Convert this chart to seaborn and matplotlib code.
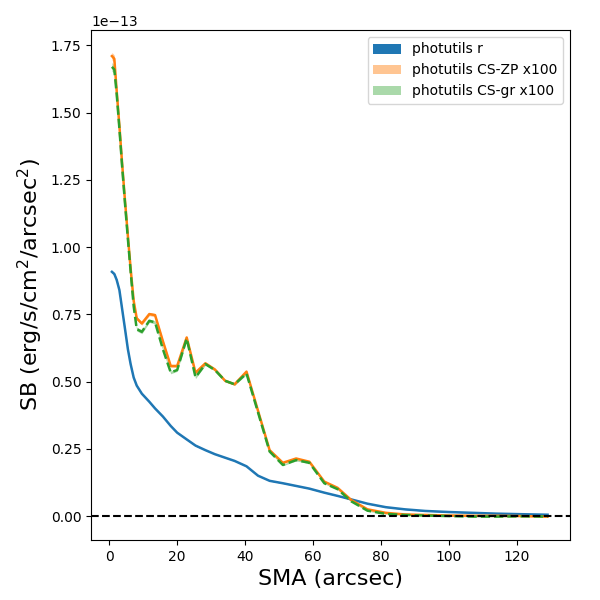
import numpy as np
import pandas as pd
import matplotlib
matplotlib.use("Agg")
import matplotlib.pyplot as plt
import seaborn as sns

# SMA (arcsec)
sma = [0.8, 1.5, 2.2, 3.0, 3.8, 4.6, 5.5, 6.3, 7.2, 8.1, 9.6, 11.8, 13.5, 15.8,
       18.1, 20.0, 22.8, 25.4, 28.3, 31.1, 34.1, 36.9, 40.4, 43.8, 47.2, 51.1,
       55.0, 58.9, 63.3, 67.2, 71.2, 76.0, 81.4, 87.0, 93.0, 100.0, 107.0,
       114.0, 121.0, 129.0]

# surface brightness, units of 1e-13 erg/s/cm^2/arcsec^2
sb_r = [0.908, 0.900, 0.878, 0.840, 0.770, 0.700, 0.620, 0.565, 0.515, 0.485,
        0.455, 0.425, 0.400, 0.370, 0.335, 0.310, 0.285, 0.262, 0.245, 0.230,
        0.217, 0.205, 0.185, 0.150, 0.131, 0.122, 0.112, 0.102, 0.087, 0.075,
        0.062, 0.046, 0.033, 0.025, 0.019, 0.015, 0.012, 0.009, 0.007, 0.005]

sb_zp = [1.710, 1.700, 1.580, 1.450, 1.310, 1.180, 1.040, 0.920, 0.800, 0.735,
         0.716, 0.751, 0.747, 0.650, 0.558, 0.558, 0.664, 0.533, 0.568, 0.545,
         0.503, 0.490, 0.537, 0.391, 0.245, 0.198, 0.214, 0.202, 0.128, 0.105,
         0.060, 0.025, 0.012, 0.006, 0.004, 0.002, 0.001, 0.001, 0.000, -0.002]

sb_gr = [1.670, 1.660, 1.570, 1.440, 1.300, 1.170, 1.030, 0.910, 0.780, 0.695,
         0.685, 0.726, 0.720, 0.620, 0.534, 0.543, 0.660, 0.516, 0.565, 0.543,
         0.503, 0.490, 0.530, 0.385, 0.240, 0.190, 0.208, 0.198, 0.122, 0.100,
         0.055, 0.020, 0.008, 0.004, 0.002, 0.000, -0.002, -0.002, -0.001, -0.002]

# uncertainties (same units)
err_r = [0.004, 0.004, 0.004, 0.004, 0.003, 0.003, 0.003, 0.003, 0.002, 0.002,
         0.002, 0.002, 0.002, 0.002, 0.002, 0.002, 0.002, 0.002, 0.001, 0.001,
         0.001, 0.001, 0.001, 0.001, 0.001, 0.001, 0.001, 0.001, 0.001, 0.001,
         0.001, 0.001, 0.001, 0.001, 0.001, 0.001, 0.001, 0.001, 0.001, 0.001]
err_zp = [0.014, 0.013, 0.012, 0.011, 0.010, 0.009, 0.008, 0.008, 0.007, 0.007,
          0.006, 0.006, 0.006, 0.006, 0.005, 0.005, 0.005, 0.005, 0.004, 0.004,
          0.004, 0.004, 0.004, 0.004, 0.003, 0.003, 0.003, 0.003, 0.002, 0.002,
          0.002, 0.002, 0.001, 0.001, 0.001, 0.001, 0.001, 0.001, 0.001, 0.001]
err_gr = [0.016, 0.015, 0.012, 0.011, 0.010, 0.009, 0.009, 0.008, 0.008, 0.007,
          0.007, 0.006, 0.006, 0.006, 0.005, 0.005, 0.005, 0.005, 0.004, 0.004,
          0.004, 0.004, 0.004, 0.004, 0.003, 0.003, 0.003, 0.003, 0.002, 0.002,
          0.002, 0.002, 0.001, 0.001, 0.001, 0.001, 0.001, 0.001, 0.001, 0.001]

labels = ["photutils r", "photutils CS-ZP x100", "photutils CS-gr x100"]
scale = 1e-13

df = pd.DataFrame({
    "sma": sma,
    "r": np.array(sb_r) * scale,
    "zp": np.array(sb_zp) * scale,
    "gr": np.array(sb_gr) * scale,
    "er": np.array(err_r) * scale,
    "ezp": np.array(err_zp) * scale,
    "egr": np.array(err_gr) * scale,
})

fig, ax = plt.subplots(figsize=(6, 6), dpi=100)
fig.subplots_adjust(left=0.152, right=0.95, bottom=0.1, top=0.95)

specs = [("r", "er", "C0", 1.0, "-", labels[0]),
         ("zp", "ezp", "C1", 0.45, "-", labels[1]),
         ("gr", "egr", "C2", 0.4, "--", labels[2])]
for col, ecol, color, alpha, ls, lab in specs:
    ax.fill_between(df["sma"], df[col] - df[ecol], df[col] + df[ecol],
                    color=color, alpha=alpha, label=lab, linewidth=0)
    sns.lineplot(data=df, x="sma", y=col, ax=ax, color=color, linestyle=ls,
                 linewidth=1.8, legend=False)

ax.axhline(0, color="k", linestyle="--", linewidth=1.5)

ax.set_xlim(-5.3, 135.6)
ax.set_ylim(-0.089e-13, 1.807e-13)
ax.set_xlabel("SMA (arcsec)", fontsize=16)
ax.set_ylabel(r"SB (erg/s/cm$^2$/arcsec$^2$)", fontsize=16)
ax.legend(loc="upper right")

fig.savefig("out.png", dpi=100)
